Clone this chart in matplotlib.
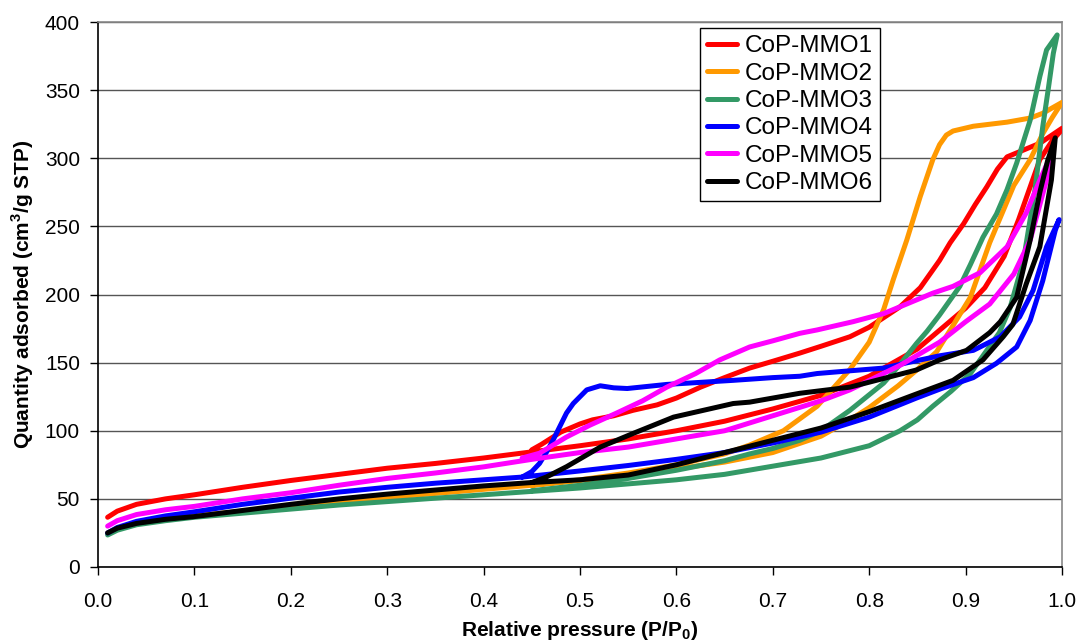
import matplotlib
matplotlib.use("Agg")
import matplotlib.pyplot as plt

plt.rcParams['font.family'] = ['Liberation Sans', 'DejaVu Sans']

labels = ["CoP-MMO1", "CoP-MMO2", "CoP-MMO3", "CoP-MMO4", "CoP-MMO5", "CoP-MMO6"]
colors = ["#FF0000", "#FF9900", "#339966", "#0000FF", "#FF00FF", "#000000"]

# ---- CoP-MMO1 ----
mmo1_ads_x = [0.01, 0.02, 0.04, 0.07, 0.10, 0.15, 0.20, 0.25, 0.30, 0.35, 0.40, 0.45, 0.50, 0.55, 0.60,
              0.65, 0.70, 0.75, 0.80, 0.85, 0.875, 0.90, 0.92, 0.94, 0.955, 0.967, 0.977, 0.99, 1.0]
mmo1_ads_y = [36.5, 41, 46, 50, 53, 58.5, 63.5, 68, 72.5, 76, 80, 84.5, 89, 94, 100,
              107, 116, 126, 140, 160, 175, 190, 205, 228, 255, 279, 299, 313, 321]
mmo1_des_x = [1.0, 0.977, 0.96, 0.943, 0.933, 0.922, 0.91, 0.898, 0.884, 0.873, 0.853, 0.832, 0.815,
              0.80, 0.78, 0.75, 0.728, 0.70, 0.676, 0.65, 0.625, 0.60, 0.58, 0.555, 0.535, 0.513,
              0.50, 0.48, 0.46, 0.45]
mmo1_des_y = [322, 311, 306, 301, 292, 279, 266, 252, 238, 225, 205, 191, 183,
              176, 169, 162, 157, 151, 146, 139, 132, 124, 119, 115, 111, 108,
              105, 99, 90, 86]

# ---- CoP-MMO2 ----
mmo2_ads_x = [0.01, 0.02, 0.04, 0.07, 0.10, 0.15, 0.20, 0.25, 0.30, 0.35, 0.40, 0.45, 0.50, 0.55, 0.60,
              0.65, 0.70, 0.75, 0.78, 0.80, 0.83, 0.85, 0.87, 0.885, 0.905, 0.925, 0.95, 0.967, 0.98,
              0.99, 1.0]
mmo2_ads_y = [25, 28, 32, 35, 37.5, 41, 44.5, 47.5, 51, 54, 57, 60, 63.5, 67, 72,
              77, 84, 96, 108, 117, 133, 145, 158, 175, 198, 238, 280, 299, 318,
              330, 341]
mmo2_des_x = [1.0, 0.98, 0.967, 0.943, 0.908, 0.887, 0.88, 0.873, 0.866, 0.853, 0.839, 0.825, 0.815,
              0.80, 0.78, 0.746, 0.711, 0.676, 0.65, 0.60, 0.55, 0.50, 0.45]
mmo2_des_y = [341, 333, 329.5, 326.5, 323.5, 320, 317, 310, 299, 272, 240, 211, 189,
              165, 145, 118, 100, 89.5, 83, 75, 69, 64, 60]

# ---- CoP-MMO3 ----
mmo3_ads_x = [0.01, 0.02, 0.04, 0.07, 0.10, 0.15, 0.20, 0.25, 0.30, 0.35, 0.40, 0.45, 0.50, 0.55, 0.60,
              0.65, 0.70, 0.75, 0.80, 0.832, 0.85, 0.866, 0.885, 0.905, 0.922, 0.935, 0.946, 0.96,
              0.972, 0.98, 0.986, 0.991, 0.995]
mmo3_ads_y = [23.5, 27, 31, 34, 36.5, 39.5, 42.5, 45.5, 48, 50.5, 53, 55.5, 58, 61, 64,
              68, 74, 80, 89, 100, 108, 118, 129, 142, 159, 172, 190, 225,
              277, 323, 352, 377, 390.5]
mmo3_des_x = [0.995, 0.984, 0.977, 0.967, 0.953, 0.943, 0.932, 0.918, 0.905, 0.894, 0.884, 0.873, 0.86,
              0.849, 0.83, 0.815, 0.78, 0.75, 0.728, 0.70, 0.676, 0.65, 0.60, 0.55, 0.50, 0.45]
mmo3_des_y = [390.5, 379.5, 360, 328, 296.5, 277, 259, 242, 222, 206, 196, 185, 173,
              164, 147, 135, 115, 100, 93, 87, 83, 78, 71, 65, 60, 56]

# ---- CoP-MMO4 ----
mmo4_ads_x = [0.01, 0.02, 0.04, 0.07, 0.10, 0.15, 0.20, 0.25, 0.30, 0.35, 0.40, 0.44, 0.50, 0.55, 0.60,
              0.65, 0.70, 0.75, 0.80, 0.849, 0.875, 0.908, 0.932, 0.953, 0.967, 0.98, 0.993, 0.997]
mmo4_ads_y = [25, 29, 33.5, 37.5, 40.5, 46, 50.5, 55, 58.5, 61.5, 64, 66, 70.5, 74.5, 79,
              84, 91, 99, 110, 124, 131, 139, 149.5, 161.5, 181, 210, 247, 255]
mmo4_des_x = [0.997, 0.984, 0.97, 0.956, 0.936, 0.908, 0.873, 0.84, 0.815, 0.78, 0.746, 0.728, 0.70,
              0.659, 0.59, 0.549, 0.535, 0.521, 0.507, 0.50, 0.493, 0.486, 0.479, 0.472, 0.465,
              0.458, 0.45, 0.44]
mmo4_des_y = [255, 235, 203, 183.5, 169, 159, 155, 150, 146, 144, 142, 140, 139,
              137, 134, 131, 131.5, 133, 130, 125, 120, 113, 103, 93, 84,
              76, 70, 66]

# ---- CoP-MMO5 ----
mmo5_ads_x = [0.01, 0.02, 0.04, 0.07, 0.10, 0.15, 0.20, 0.25, 0.30, 0.35, 0.40, 0.45, 0.50, 0.55, 0.60,
              0.65, 0.70, 0.75, 0.78, 0.832, 0.873, 0.90, 0.925, 0.95, 0.967, 0.984, 0.991]
mmo5_ads_y = [30, 34, 38.5, 42, 44.5, 50, 54.5, 60, 65, 69, 73.5, 79, 84, 88, 94,
              100, 111, 122, 130, 148, 165, 180, 193, 215, 240, 284, 306]
mmo5_des_x = [0.991, 0.977, 0.963, 0.943, 0.915, 0.887, 0.866, 0.815, 0.783, 0.746, 0.728, 0.70,
              0.676, 0.645, 0.62, 0.59, 0.565, 0.538, 0.51, 0.486, 0.458, 0.44]
mmo5_des_y = [306, 284, 260, 235, 216, 206, 201, 186, 180, 174, 171.5, 166,
              161.5, 152, 142, 132, 122, 113, 104, 95.4, 83.5, 80]

# ---- CoP-MMO6 ----
mmo6_ads_x = [0.01, 0.02, 0.04, 0.07, 0.10, 0.15, 0.20, 0.25, 0.30, 0.35, 0.40, 0.45, 0.50, 0.55, 0.60,
              0.65, 0.70, 0.75, 0.80, 0.849, 0.887, 0.918, 0.939, 0.949, 0.963, 0.977, 0.989, 0.993]
mmo6_ads_y = [25, 28.5, 32, 35, 37, 41.5, 46, 50, 53.5, 56.5, 59.5, 62, 64, 67.5, 75,
              84, 93, 102, 114, 127, 137, 152, 169, 178, 208, 235, 284, 315]
mmo6_des_x = [0.993, 0.985, 0.977, 0.967, 0.953, 0.936, 0.925, 0.901, 0.873, 0.849, 0.78, 0.728,
              0.676, 0.659, 0.597, 0.555, 0.521, 0.486, 0.465, 0.45]
mmo6_des_y = [315, 298, 275, 240, 198, 180, 172, 159, 152, 144.6, 132, 127.5,
              121, 120, 110, 98, 88, 73.6, 66, 62]

series = [
    (mmo1_ads_x, mmo1_ads_y, mmo1_des_x, mmo1_des_y),
    (mmo2_ads_x, mmo2_ads_y, mmo2_des_x, mmo2_des_y),
    (mmo3_ads_x, mmo3_ads_y, mmo3_des_x, mmo3_des_y),
    (mmo4_ads_x, mmo4_ads_y, mmo4_des_x, mmo4_des_y),
    (mmo5_ads_x, mmo5_ads_y, mmo5_des_x, mmo5_des_y),
    (mmo6_ads_x, mmo6_ads_y, mmo6_des_x, mmo6_des_y),
]

x_ticks = [0.0, 0.1, 0.2, 0.3, 0.4, 0.5, 0.6, 0.7, 0.8, 0.9, 1.0]
y_ticks = [0, 50, 100, 150, 200, 250, 300, 350, 400]

fig = plt.figure(figsize=(10.81, 6.44), dpi=100)
ax = fig.add_axes([98 / 1081, 77 / 644, 964 / 1081, 545 / 644])

for (ax_x, ax_y, dx, dy), lab, col in zip(series, labels, colors):
    ax.plot(list(ax_x) + list(dx), list(ax_y) + list(dy), color=col, lw=3.6,
            solid_joinstyle='round', solid_capstyle='round', label=lab, zorder=3)

ax.set_xlim(0, 1.0)
ax.set_ylim(0, 400)
ax.set_xticks(x_ticks)
ax.set_xticklabels([f"{v:.1f}" for v in x_ticks])
ax.set_yticks(y_ticks)
ax.set_yticklabels([str(v) for v in y_ticks])
ax.tick_params(axis='both', direction='out', length=6, width=1, labelsize=15, colors='black')
ax.tick_params(axis='x', pad=12)
ax.tick_params(axis='y', pad=7)

ax.grid(axis='y', color='#555555', lw=1)
ax.set_axisbelow(True)
for s in ['left', 'bottom']:
    ax.spines[s].set_color('black')
    ax.spines[s].set_linewidth(1.2)
for s in ['top', 'right']:
    ax.spines[s].set_color('#888888')
    ax.spines[s].set_linewidth(1.2)

ax.set_xlabel("Relative pressure (P/P$_\\mathregular{0}$)", fontsize=15, fontweight='bold', labelpad=6)
ax.set_ylabel("Quantity adsorbed (cm$^\\mathregular{3}$/g STP)", fontsize=15, fontweight='bold', labelpad=6)

leg = ax.legend(loc='upper left', bbox_to_anchor=(0.624, 0.989), fontsize=17.5, frameon=True,
                fancybox=False, edgecolor='black', framealpha=1, borderpad=0.3,
                labelspacing=0.22, handlelength=1.25, handletextpad=0.3, borderaxespad=0)
leg.get_frame().set_linewidth(1.0)
for h in leg.get_lines():
    h.set_linewidth(3.6)

fig.savefig("out.png", dpi=100)
